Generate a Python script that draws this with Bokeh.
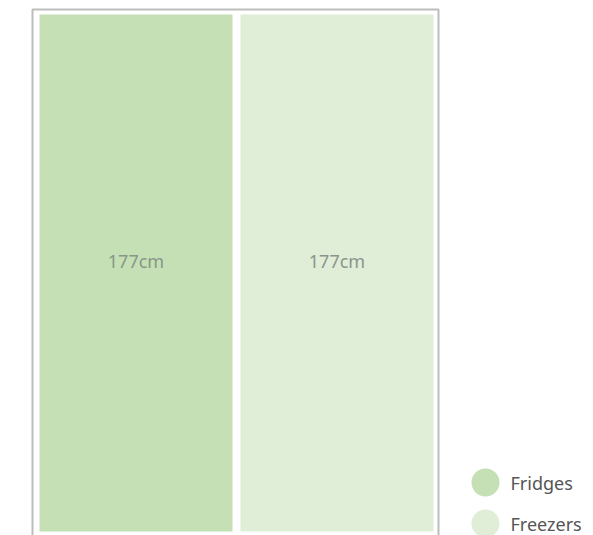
from bokeh.plotting import figure
from bokeh.models import ColumnDataSource, Range1d
from bokeh.core.properties import value
from bokeh.embed import file_html
from bokeh.resources import INLINE

# ---- data ----
categories = ["Fridges", "Freezers"]
heights_cm = [177, 177]
labels = ["177cm", "177cm"]
colors = ["#c5e0b4", "#e0eed8"]

# ---- layout constants (pixels) ----
W, H = 593, 535
PX_PER_CAT = 201.0          # horizontal pitch of bars in px
X0_PX = 135.5               # centre of first bar in figure px
BAR_W = 193.0 / PX_PER_CAT
PX_PER_CM = 517.0 / 177.0   # vertical scale
BASE_PX = 531.0             # figure-px position of value 0

def fx(px):  # figure px -> data x
    return (px - X0_PX) / PX_PER_CAT

def fy(px):  # figure px (from top) -> data y
    return (BASE_PX - px) / PX_PER_CM

p = figure(width=W, height=H, output_backend="svg", toolbar_location=None,
           x_range=Range1d(fx(0), fx(W)), y_range=Range1d(fy(H), fy(0)),
           min_border=0, min_border_left=0, min_border_right=0,
           min_border_top=0, min_border_bottom=0)
p.axis.visible = False
p.grid.visible = False
p.outline_line_color = None
p.background_fill_color = "white"
p.border_fill_color = "white"

idx = list(range(len(categories)))
src = ColumnDataSource(dict(
    x=idx, top=heights_cm, cat=categories, color=colors, label=labels,
    label_y=[h * 0.524 for h in heights_cm],
    leg_x=[fx(485)] * len(categories),
    leg_y=[fy(482 + 41 * i) for i in idx],
    leg_tx=[fx(510)] * len(categories),
))

# outer frame box
p.quad(left=[fx(32)], right=[fx(438)], top=[fy(9)], bottom=[-5],
       fill_color=None, line_color="#bdbdbd", line_width=2)

p.vbar(x="x", top="top", bottom=0, width=BAR_W, source=src,
       fill_color="color", line_color=None)

p.text(x="x", y="label_y", text="label", source=src,
       text_align="center", text_baseline="middle",
       text_font=value("Noto Sans"), text_font_size="18px",
       text_color="#8a958a")

# legend (drawn manually)
p.scatter(x="leg_x", y="leg_y", size=28, source=src,
          fill_color="color", line_color=None)
p.text(x="leg_tx", y="leg_y", text="cat", source=src,
       text_align="left", text_baseline="middle",
       text_font=value("Noto Sans"), text_font_size="18px",
       text_color="#555555")

open("out.html", "w").write(file_html(p, INLINE))
